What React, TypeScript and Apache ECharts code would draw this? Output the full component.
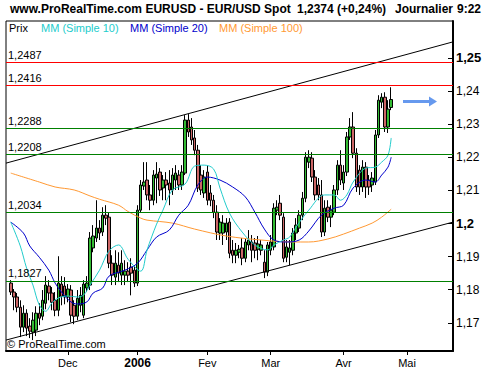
import React, { useEffect, useRef } from "react";
import * as echarts from "echarts";

const FONT = "'Liberation Sans', Arial, sans-serif";

// Calendar: first (empty) slot and number of weekday slots on the axis
const startDate = "2005-11-04";
const slotCount = 141;
const firstCandleSlot = 1;

// Daily candles (EUR/USD), from 2005-11-07
const opens = [
  1.1820, 1.1793, 1.1778, 1.1747, 1.1687, 1.1729, 1.1690, 1.1672, 1.1678, 1.1729,
  1.1720, 1.1759, 1.1811, 1.1790, 1.1768, 1.1738, 1.1817, 1.1811, 1.1778, 1.1799,
  1.1753, 1.1720, 1.1753, 1.1723, 1.1805, 1.1814, 1.1926, 1.1956, 1.1986, 1.1974,
  1.2025, 1.2019, 1.1880, 1.1838, 1.1874, 1.1844, 1.1844, 1.1856, 1.1868, 1.1859,
  1.1820, 1.2040, 1.2113, 1.2131, 1.2086, 1.2070, 1.2137, 1.2155, 1.2107, 1.2131,
  1.2122, 1.2101, 1.2131, 1.2146, 1.2116, 1.2152, 1.2312, 1.2291, 1.2258, 1.2221,
  1.2146, 1.2092, 1.2155, 1.2092, 1.2070, 1.2034, 1.1971, 1.1971, 1.1974, 1.2004,
  1.1919, 1.1904, 1.1913, 1.1926, 1.1895, 1.1935, 1.1944, 1.1941, 1.1922, 1.1919,
  1.1883, 1.1853, 1.1919, 1.1929, 1.2040, 1.2061, 1.2019, 1.1898, 1.1913, 1.1919,
  1.1971, 1.1986, 1.2025, 1.2076, 1.2185, 1.2197, 1.2140, 1.2116, 1.2086, 1.1974,
  1.2049, 1.2019, 1.2034, 1.2101, 1.2176, 1.2122, 1.2155, 1.2261, 1.2291, 1.2212,
  1.2161, 1.2110, 1.2170, 1.2131, 1.2116, 1.2125, 1.2267, 1.2366, 1.2381, 1.2291,
  1.2350,
];
const closes = [
  1.1793, 1.1778, 1.1747, 1.1687, 1.1729, 1.1684, 1.1675, 1.1708, 1.1729, 1.1714,
  1.1768, 1.1814, 1.1790, 1.1762, 1.1738, 1.1820, 1.1780, 1.1778, 1.1802, 1.1723,
  1.1720, 1.1774, 1.1783, 1.1817, 1.1820, 1.1956, 1.1962, 1.1986, 1.1971, 1.2025,
  1.2016, 1.1880, 1.1844, 1.1880, 1.1850, 1.1880, 1.1856, 1.1844, 1.1850, 1.1820,
  1.2040, 1.2116, 1.2125, 1.2086, 1.2070, 1.2146, 1.2149, 1.2101, 1.2131, 1.2116,
  1.2101, 1.2146, 1.2152, 1.2116, 1.2155, 1.2312, 1.2276, 1.2252, 1.2221, 1.2107,
  1.2101, 1.2140, 1.2070, 1.2070, 1.2034, 1.1974, 1.2004, 1.2001, 1.2001, 1.1910,
  1.1904, 1.1919, 1.1922, 1.1895, 1.1944, 1.1950, 1.1919, 1.1919, 1.1938, 1.1935,
  1.1853, 1.1935, 1.1944, 1.2046, 1.2049, 1.2025, 1.1895, 1.1929, 1.1926, 1.1971,
  1.1995, 1.2025, 1.2076, 1.2200, 1.2200, 1.2140, 1.2086, 1.2086, 1.1974, 1.2046,
  1.2019, 1.2040, 1.2101, 1.2176, 1.2131, 1.2155, 1.2261, 1.2291, 1.2212, 1.2110,
  1.2110, 1.2170, 1.2110, 1.2110, 1.2137, 1.2267, 1.2372, 1.2381, 1.2291, 1.2345,
  1.2374,
];
const lows = [
  1.1784, 1.1738, 1.1732, 1.1657, 1.1672, 1.1660, 1.1654, 1.1648, 1.1660, 1.1693,
  1.1708, 1.1741, 1.1768, 1.1738, 1.1720, 1.1720, 1.1753, 1.1756, 1.1762, 1.1702,
  1.1696, 1.1708, 1.1732, 1.1714, 1.1793, 1.1799, 1.1913, 1.1944, 1.1950, 1.1962,
  1.1995, 1.1865, 1.1814, 1.1814, 1.1823, 1.1814, 1.1814, 1.1823, 1.1783, 1.1808,
  1.1811, 1.2034, 1.2101, 1.2070, 1.2040, 1.2055, 1.2061, 1.2083, 1.2070, 1.2070,
  1.2055, 1.2086, 1.2101, 1.2101, 1.2101, 1.2146, 1.2261, 1.2237, 1.2206, 1.2095,
  1.2086, 1.2077, 1.2055, 1.2052, 1.2016, 1.1950, 1.1950, 1.1935, 1.1950, 1.1895,
  1.1880, 1.1880, 1.1895, 1.1874, 1.1883, 1.1919, 1.1883, 1.1895, 1.1889, 1.1904,
  1.1835, 1.1841, 1.1904, 1.1919, 1.2025, 1.2010, 1.1883, 1.1883, 1.1874, 1.1904,
  1.1950, 1.1974, 1.2010, 1.2064, 1.2167, 1.2125, 1.2070, 1.2070, 1.1959, 1.1962,
  1.2004, 1.1989, 1.2025, 1.2086, 1.2116, 1.2101, 1.2143, 1.2252, 1.2197, 1.2095,
  1.2086, 1.2095, 1.2077, 1.2086, 1.2095, 1.2116, 1.2258, 1.2348, 1.2276, 1.2273,
  1.2342,
];
const highs = [
  1.1829, 1.1802, 1.1790, 1.1768, 1.1753, 1.1741, 1.1714, 1.1732, 1.1750, 1.1759,
  1.1799, 1.1841, 1.1829, 1.1808, 1.1793, 1.1901, 1.1841, 1.1838, 1.1817, 1.1814,
  1.1768, 1.1799, 1.1808, 1.1829, 1.1841, 1.1974, 1.1995, 1.2070, 1.2010, 1.2049,
  1.2055, 1.2034, 1.1904, 1.1919, 1.1913, 1.1919, 1.1889, 1.1883, 1.1895, 1.1874,
  1.2055, 1.2131, 1.2185, 1.2185, 1.2116, 1.2161, 1.2185, 1.2167, 1.2146, 1.2155,
  1.2161, 1.2167, 1.2176, 1.2161, 1.2176, 1.2327, 1.2330, 1.2318, 1.2282, 1.2237,
  1.2176, 1.2161, 1.2176, 1.2116, 1.2086, 1.2055, 1.2016, 1.2025, 1.2016, 1.2016,
  1.1950, 1.1941, 1.1935, 1.1956, 1.1956, 1.1980, 1.1965, 1.1956, 1.1962, 1.1950,
  1.1919, 1.1944, 1.1965, 1.2061, 1.2070, 1.2086, 1.2031, 1.1950, 1.1950, 1.1986,
  1.2016, 1.2040, 1.2095, 1.2215, 1.2221, 1.2215, 1.2161, 1.2137, 1.2131, 1.2070,
  1.2070, 1.2055, 1.2116, 1.2191, 1.2221, 1.2176, 1.2276, 1.2318, 1.2336, 1.2227,
  1.2176, 1.2191, 1.2185, 1.2146, 1.2155, 1.2282, 1.2387, 1.2393, 1.2396, 1.2372,
  1.2411,
];

// Moving averages: [candle index, value]
const ma10 = [
  [0, 1.2004], [3, 1.1932], [5, 1.1865], [7, 1.1814], [9, 1.1754], [11, 1.1735],
  [13, 1.1760], [15, 1.1775], [18, 1.1781], [21, 1.1778], [23, 1.1784], [25, 1.1814],
  [28, 1.1859], [31, 1.1917], [34, 1.1935], [37, 1.1892], [41, 1.1856], [43, 1.1920],
  [46, 1.1998], [48, 1.2040], [51, 1.2101], [55, 1.2119], [58, 1.2173], [61, 1.2176],
  [64, 1.2164], [66, 1.2107], [69, 1.2031], [73, 1.1974], [77, 1.1935], [81, 1.1920],
  [83, 1.1935], [86, 1.1950], [88, 1.1959], [90, 1.1989], [94, 1.2040], [99, 1.2086],
  [102, 1.2086], [104, 1.2070], [106, 1.2086], [108, 1.2125], [112, 1.2167],
  [115, 1.2170], [117, 1.2185], [119, 1.2206], [120, 1.2258],
];
const ma20 = [
  [0, 1.2004], [4, 1.1971], [6, 1.1932], [9, 1.1898], [12, 1.1859], [14, 1.1820],
  [16, 1.1793], [19, 1.1763], [21, 1.1757], [24, 1.1763], [26, 1.1790], [29, 1.1805],
  [31, 1.1841], [36, 1.1859], [40, 1.1880], [43, 1.1920], [46, 1.1959], [50, 1.1980],
  [53, 1.2025], [56, 1.2055], [59, 1.2116], [62, 1.2140], [66, 1.2131], [70, 1.2110],
  [74, 1.2080], [77, 1.2034], [80, 1.1983], [83, 1.1950], [87, 1.1944], [91, 1.1950],
  [94, 1.1977], [98, 1.2025], [102, 1.2046], [105, 1.2055], [108, 1.2107],
  [112, 1.2131], [115, 1.2125], [117, 1.2146], [119, 1.2170], [120, 1.2200],
];
const ma100 = [
  [0, 1.2152], [9, 1.2125], [14, 1.2110], [20, 1.2101], [25, 1.2083], [28, 1.2073],
  [34, 1.2055], [37, 1.2036], [41, 1.2016], [43, 1.2010], [51, 1.2001], [58, 1.1983],
  [68, 1.1962], [79, 1.1950], [89, 1.1944], [94, 1.1944], [100, 1.1953], [105, 1.1968],
  [110, 1.1986], [114, 1.2001], [117, 1.2019], [120, 1.2043],
];

// Horizontal levels and trend channel ([axis slot, value])
const levels = [1.2487, 1.2416, 1.2288, 1.2208, 1.2034, 1.1827];
const upperTrend = [[0, 1.2182], [141, 1.2548]];
const lowerTrend = [[0, 1.1648], [141, 1.2004]];

const yTicks = [1.17, 1.18, 1.19, 1.2, 1.21, 1.22, 1.23, 1.24, 1.25];
const monthDates = ["2005-12-01", "2006-01-02", "2006-02-01", "2006-03-01", "2006-04-03", "2006-05-01"];
const monthLabels = ["Dec", "2006", "Fev", "Mar", "Avr", "Mai"];

// styles
const levelColors = ["#ff0000", "#ff0000", "#008000", "#008000", "#008000", "#008000"];

function buildSlots(start: string, count: number): string[] {
  const out: string[] = [];
  const d = new Date(start + "T00:00:00Z");
  while (out.length < count) {
    const wd = d.getUTCDay();
    if (wd !== 0 && wd !== 6) out.push(d.toISOString().slice(0, 10));
    d.setUTCDate(d.getUTCDate() + 1);
  }
  return out;
}

const comma = (s: string) => s.replace(".", ",");

export default function App() {
  const ref = useRef<HTMLDivElement>(null);
  useEffect(() => {
    if (!ref.current) return;
    const chart = echarts.init(ref.current, undefined, { renderer: "svg" });
    const slots = buildSlots(startDate, slotCount);
    const labelMap: Record<string, string> = {};
    monthDates.forEach((d, k) => (labelMap[d] = monthLabels[k]));
    const isLabel = (_i: number, v: string) => labelMap[v] !== undefined;

    const candleData = slots.map((_, s) => {
      const i = s - firstCandleSlot;
      if (i < 0 || i >= closes.length) return "-";
      return [opens[i], closes[i], lows[i], highs[i]];
    });
    const toSlot = (arr: number[][]) => arr.map(([i, v]) => [i + firstCandleSlot + 0.5, v]);
    const emptyData = slots.map(() => "-");

    const maSeries = (name: string, data: number[][], color: string) => ({
      name,
      type: "line",
      xAxisIndex: 1,
      data: toSlot(data),
      showSymbol: false,
      smooth: 0.35,
      z: 3,
      lineStyle: { color, width: 1 },
      silent: true,
    });
    const trendSeries = (data: number[][]) => ({
      type: "line",
      xAxisIndex: 1,
      data,
      showSymbol: false,
      z: 4,
      lineStyle: { color: "#000", width: 1 },
      silent: true,
    });

    chart.setOption({
      animation: false,
      backgroundColor: "#fff",
      textStyle: { fontFamily: FONT },
      grid: { left: 6, right: 47, top: 21, bottom: 19, show: true, borderColor: "#000", borderWidth: 1, backgroundColor: "transparent" },
      xAxis: [
        {
          type: "category",
          data: slots,
          boundaryGap: true,
          axisLine: { show: true, lineStyle: { color: "#000", width: 2 } },
          axisTick: { show: true, interval: isLabel, alignWithLabel: true, length: 4, lineStyle: { color: "#000" } },
          axisLabel: {
            interval: isLabel,
            margin: 6,
            color: "#000",
            fontSize: 11,
            fontFamily: FONT,
            formatter: (v: string) => {
              const l = labelMap[v] ?? "";
              return l === "2006" ? "{b|2006}" : l;
            },
            rich: { b: { fontWeight: "bold", fontSize: 12, fontFamily: FONT, color: "#000" } },
          },
          splitLine: { show: false },
        },
        { type: "value", min: 0, max: slotCount, show: false },
      ],
      yAxis: {
        type: "value",
        position: "right",
        min: 1.1615,
        max: 1.2611,
        splitLine: { show: false },
        axisLine: { show: true, onZero: false, lineStyle: { color: "#000", width: 2 } },
        axisTick: { show: true, inside: true, length: 5, customValues: yTicks, lineStyle: { color: "#000" } },
        axisLabel: {
          customValues: yTicks,
          margin: 3,
          color: "#000",
          fontSize: 12,
          fontFamily: FONT,
          showMinLabel: true,
          showMaxLabel: true,
          formatter: (v: number) => {
            const s = comma(String(Number(v.toFixed(2))));
            return Math.round(v * 100) % 5 === 0 ? `{b|${s}}` : s;
          },
          rich: { b: { fontWeight: "bold", fontSize: 13, fontFamily: FONT, color: "#000" } },
        },
      },
      series: [
        {
          type: "line",
          data: emptyData,
          z: 1,
          silent: true,
          markLine: {
            silent: true,
            symbol: "none",
            precision: 4,
            animation: false,
            label: {
              position: "insideStartTop",
              distance: [2, 2],
              color: "#000",
              fontSize: 11,
              fontFamily: FONT,
            },
            data: levels.map((v, k) => ({
              yAxis: v,
              lineStyle: { color: levelColors[k], width: 1, type: "solid" },
              label: { formatter: comma(v.toFixed(4)) },
            })),
          },
        },
        {
          name: "Prix",
          type: "candlestick",
          data: candleData,
          barWidth: 3,
          z: 2,
          silent: true,
          itemStyle: {
            color: "#33bb33",
            color0: "#cc6666",
            borderColor: "#000",
            borderColor0: "#000",
            borderWidth: 1,
          },
        },
        maSeries("MM (Simple 100)", ma100, "#ff9933"),
        maSeries("MM (Simple 20)", ma20, "#0000cc"),
        maSeries("MM (Simple 10)", ma10, "#22cccc"),
        trendSeries(upperTrend),
        trendSeries(lowerTrend),
      ],
      graphic: [
        { type: "text", left: 10, top: 3, style: { text: "www.ProRealTime.com EURUSD - EUR/USD Spot", font: `bold 12px ${FONT}`, fill: "#000" } },
        { type: "text", left: 297, top: 3, style: { text: "1,2374 (+0,24%)", font: `bold 12px ${FONT}`, fill: "#000" } },
        { type: "text", left: 395, top: 3, style: { text: "Journalier", font: `bold 12px ${FONT}`, fill: "#000" } },
        { type: "text", left: 457, top: 3, style: { text: "9:22", font: `bold 12px ${FONT}`, fill: "#000" } },
        { type: "text", left: 9, top: 22, style: { text: "Prix", font: `11px ${FONT}`, fill: "#000" } },
        { type: "text", left: 41, top: 22, style: { text: "MM (Simple 10)", font: `11px ${FONT}`, fill: "#22cccc" } },
        { type: "text", left: 130, top: 22, style: { text: "MM (Simple 20)", font: `11px ${FONT}`, fill: "#0000cc" } },
        { type: "text", left: 219, top: 22, style: { text: "MM (Simple 100)", font: `11px ${FONT}`, fill: "#ff9933" } },
        { type: "text", left: 7, top: 338, style: { text: "© ProRealTime.com", font: `11px ${FONT}`, fill: "#000" } },
        { type: "line", shape: { x1: 403, y1: 101.5, x2: 430, y2: 101.5 }, style: { stroke: "#6699ee", lineWidth: 3 } },
        { type: "polygon", shape: { points: [[429, 96.5], [437, 101.5], [429, 106.5]] }, style: { fill: "#6699ee" } },
      ],
    });
    return () => chart.dispose();
  }, []);
  return <div ref={ref} style={{ width: 500, height: 370, position: "absolute", left: 0, top: 0 }} />;
}
